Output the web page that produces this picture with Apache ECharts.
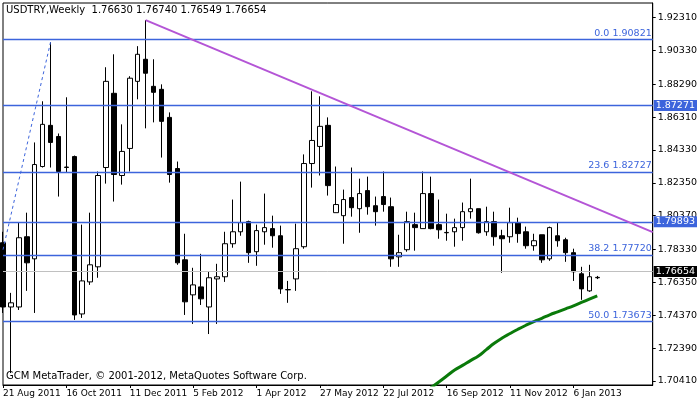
<!DOCTYPE html>
<html><head><meta charset="utf-8">
<script src="https://cdn.jsdelivr.net/npm/echarts@6/dist/echarts.min.js"></script>
<style>html,body{margin:0;padding:0;background:#fff}#c{width:700px;height:402px}</style>
</head><body><div id="c"></div>
<script>
// OHLC per week, starting 21 Aug 2011
const opens  = [1.7874,1.7487,1.7487,1.7910,1.7777,1.8333,1.8581,1.8514,1.8327,1.8393,1.7445,1.7638,1.7729,1.8327,1.8774,1.8279,1.8442,1.8846,1.8979,1.8816,1.8798,1.8629,1.8321,1.7771,1.7560,1.7608,1.7487,1.7656,1.7669,1.7868,1.7940,1.8001,1.7820,1.7940,1.7959,1.7916,1.7590,1.7656,1.7850,1.8351,1.8454,1.8581,1.8055,1.8037,1.8146,1.8079,1.8188,1.8097,1.8152,1.8091,1.7789,1.7832,1.7983,1.7959,1.8170,1.7983,1.7934,1.7940,1.7965,1.8061,1.8079,1.7940,1.8001,1.7916,1.7910,1.7995,1.7940,1.7856,1.7922,1.7777,1.7916,1.7892,1.7814,1.7687,1.7584,1.76630];
const closes = [1.7487,1.7512,1.7904,1.7753,1.8345,1.8587,1.8478,1.8303,1.8330,1.7439,1.7644,1.7741,1.8279,1.8846,1.8285,1.8424,1.8865,1.9009,1.8895,1.8780,1.8605,1.8285,1.7753,1.7518,1.7620,1.7536,1.7663,1.7669,1.7868,1.7940,1.7995,1.7814,1.7947,1.7965,1.7916,1.7596,1.7592,1.7838,1.8351,1.8490,1.8575,1.8218,1.8104,1.8134,1.8085,1.8170,1.8091,1.8061,1.8104,1.7777,1.7814,1.8001,1.7965,1.8170,1.7959,1.7952,1.7936,1.7965,1.8061,1.8079,1.7934,1.8001,1.7910,1.7898,1.7995,1.7929,1.7856,1.7886,1.7771,1.7965,1.7886,1.7814,1.7699,1.7596,1.7669,1.76654];
const highs  = [1.7940,1.7572,1.7995,1.8055,1.8478,1.8726,1.9082,1.8532,1.8750,1.8399,1.7983,1.8055,1.8303,1.8931,1.9009,1.8587,1.8877,1.9058,1.9215,1.8979,1.8828,1.8659,1.8363,1.7928,1.7723,1.7807,1.7699,1.7747,1.7940,1.8134,1.8242,1.8007,1.7983,1.8170,1.8037,1.7977,1.7644,1.7989,1.8406,1.8786,1.8756,1.8629,1.8333,1.8194,1.8327,1.8260,1.8272,1.8152,1.8303,1.8146,1.7922,1.8061,1.8055,1.8303,1.8272,1.8134,1.8049,1.8019,1.8116,1.8260,1.8079,1.8091,1.8061,1.7952,1.8085,1.8025,1.7971,1.7928,1.7922,1.7971,1.7995,1.7904,1.7838,1.7729,1.7741,1.76740];
const lows   = [1.7451,1.7089,1.7469,1.7584,1.7451,1.8327,1.8327,1.8152,1.8297,1.7409,1.7421,1.7620,1.7663,1.8230,1.8122,1.8224,1.8303,1.8738,1.8563,1.8599,1.8387,1.8236,1.7741,1.7439,1.7385,1.7499,1.7324,1.7385,1.7638,1.7844,1.7916,1.7753,1.7735,1.7862,1.7844,1.7566,1.7512,1.7584,1.7838,1.8206,1.8279,1.8158,1.8055,1.7868,1.8031,1.7934,1.8043,1.7977,1.8061,1.7729,1.7729,1.7820,1.7826,1.7959,1.7955,1.7898,1.7886,1.7850,1.7886,1.8019,1.7929,1.7916,1.7856,1.7693,1.7874,1.7874,1.7838,1.7826,1.7753,1.7765,1.7850,1.7759,1.7644,1.7530,1.7578,1.76549];
// moving average (visible part), from week index 54
const maStart = 54;
const maValues = [1.7000,1.7035,1.7071,1.7107,1.7135,1.7164,1.7192,1.7230,1.7268,1.7300,1.7327,1.7353,1.7377,1.7399,1.7419,1.7440,1.7458,1.7476,1.7494,1.7514,1.7534,1.7554];
const yTicks = [1.92310,1.90330,1.88290,1.86310,1.84330,1.82350,1.80370,1.78330,1.76350,1.74370,1.72390,1.70410];
const fibLevels = [{v:1.90821,t:'0.0 1.90821'},{v:1.82727,t:'23.6 1.82727'},{v:1.77720,t:'38.2 1.77720'},{v:1.73673,t:'50.0 1.73673'}];
const boxLevels = [1.87271,1.79893];
const lastPrice = 1.76654;
const trendStart = {i:18, v:1.9215}, trendEnd = {i:82, v:1.7938};
const dashStart = {i:0, v:1.7832}, dashEnd = {i:6, v:1.90821};
const nCats = 83;

const mon=['Jan','Feb','Mar','Apr','May','Jun','Jul','Aug','Sep','Oct','Nov','Dec'];
const cats=[]; const d0=new Date(Date.UTC(2011,7,21));
for(let i=0;i<nCats;i++){const d=new Date(d0.getTime()+i*7*864e5);cats.push(d.getUTCDate()+' '+mon[d.getUTCMonth()]+' '+d.getUTCFullYear());}
const candles=opens.map((o,i)=>[o,closes[i],lows[i],highs[i]]);
const ma=cats.map((_,i)=>{const k=i-maStart;return (k>=0&&k<maValues.length)?maValues[k]:null;});
const blue='#3c64dc';
const font='"DejaVu Sans", sans-serif';
const mlines=[];
fibLevels.forEach(f=>mlines.push({yAxis:f.v,lineStyle:{color:blue,width:1.3,type:'solid',opacity:1},label:{show:true,position:'insideEndTop',formatter:f.t,color:blue,fontSize:9.5,fontFamily:font,distance:1}}));
boxLevels.forEach(v=>mlines.push({yAxis:v,lineStyle:{color:blue,width:1.3,type:'solid',opacity:1},label:{show:true,position:'end',formatter:v.toFixed(5),color:'#fff',backgroundColor:blue,fontSize:9.5,fontFamily:font,padding:[1,2,0,2],distance:1}}));
mlines.push({yAxis:lastPrice,lineStyle:{color:'#c0c0c0',width:1,type:'solid',opacity:1},label:{show:true,position:'end',formatter:lastPrice.toFixed(5),color:'#fff',backgroundColor:'#000',fontSize:9.5,fontFamily:font,padding:[1,2,0,2],distance:1}});
mlines.push([{coord:[trendStart.i,trendStart.v],lineStyle:{color:'#b455d6',width:2,type:'solid',opacity:1}},{coord:[trendEnd.i,trendEnd.v]}]);
mlines.push([{coord:[dashStart.i,dashStart.v],lineStyle:{color:blue,width:1,type:[3,3],opacity:1}},{coord:[dashEnd.i,dashEnd.v]}]);

const chart=echarts.init(document.getElementById('c'),null,{renderer:'canvas'});
chart.setOption({
  animation:false,
  backgroundColor:'#fff',
  textStyle:{fontFamily:font},
  graphic:[
    {type:'text',left:6,top:5,style:{text:'USDTRY,Weekly  1.76630 1.76740 1.76549 1.76654',fontSize:10,fontFamily:font,fill:'#000'}},
    {type:'text',left:6,top:371,style:{text:'GCM MetaTrader, © 2001-2012, MetaQuotes Software Corp.',fontSize:10,fontFamily:font,fill:'#000'}}
  ],
  grid:{left:3,right:43,top:3,bottom:17,show:true,borderColor:'#000',borderWidth:1},
  xAxis:{type:'category',data:cats,boundaryGap:false,
    axisLine:{show:true,lineStyle:{color:'#000'}},
    axisTick:{show:true,interval:(i)=>i%8===0&&i<80,lineStyle:{color:'#000'},length:3},
    axisLabel:{interval:(i)=>i%8===0&&i<80,hideOverlap:false,showMinLabel:true,color:'#000',fontSize:9,fontFamily:font,margin:4,align:'left'},
    splitLine:{show:false}},
  yAxis:{type:'value',position:'right',min:1.7017,max:1.9318,
    axisLine:{show:true,lineStyle:{color:'#000'}},
    axisTick:{show:true,customValues:yTicks,lineStyle:{color:'#000'},length:3},
    axisLabel:{customValues:yTicks,formatter:v=>v.toFixed(5),color:'#000',fontSize:9.5,fontFamily:font,margin:5},
    splitLine:{show:false}},
  series:[
    {type:'candlestick',data:candles,barWidth:5,
      itemStyle:{color:'#fff',color0:'#000',borderColor:'#000',borderColor0:'#000',borderWidth:1},
      markLine:{symbol:'none',silent:true,animation:false,emphasis:{disabled:true},data:mlines}},
    {type:'line',data:ma,symbol:'none',smooth:true,connectNulls:false,lineStyle:{color:'#0a7a0a',width:3},z:3}
  ]
});
</script></body></html>
